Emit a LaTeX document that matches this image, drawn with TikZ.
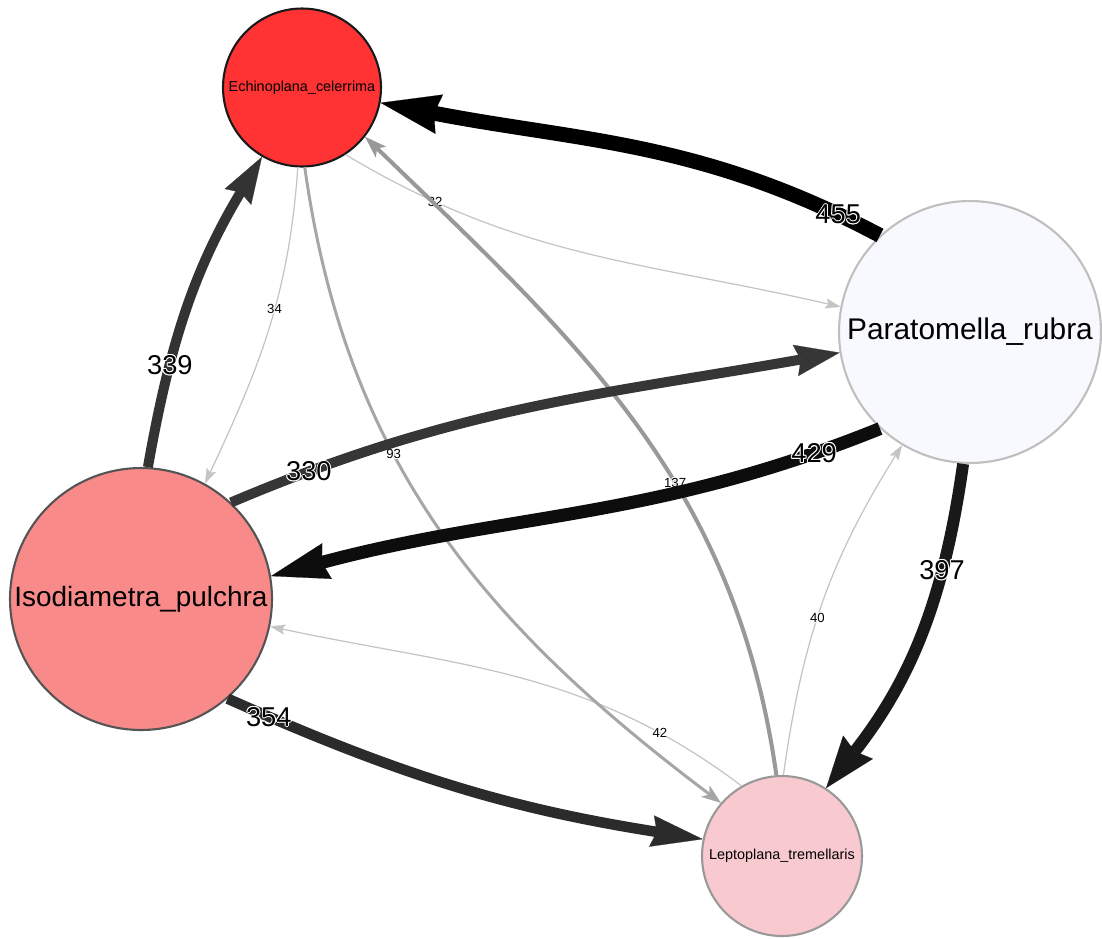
\documentclass[tikz,border=0pt]{standalone}
\usepackage{fontspec}
\setmainfont{Liberation Sans}
\usetikzlibrary{arrows.meta}
\definecolor{echired}{RGB}{255,51,51}
\definecolor{isodrose}{RGB}{249,138,138}
\definecolor{leptpink}{RGB}{248,202,208}
\definecolor{paramist}{RGB}{248,248,255}

% white rim round the weights
\newcommand{\haloed}[1]{%
  \rlap{\color{white}\kern-0.55pt#1}\rlap{\color{white}\kern0.55pt#1}%
  \rlap{\color{white}\raisebox{0.55pt}{#1}}\rlap{\color{white}\raisebox{-0.55pt}{#1}}%
  \rlap{\color{white}\kern0.4pt\raisebox{0.4pt}{#1}}\rlap{\color{white}\kern-0.4pt\raisebox{0.4pt}{#1}}%
  \rlap{\color{white}\kern0.4pt\raisebox{-0.4pt}{#1}}\rlap{\color{white}\kern-0.4pt\raisebox{-0.4pt}{#1}}%
  #1}

\begin{document}
\begin{tikzpicture}[x=0.02cm, y=-0.02cm,
    species/.style={circle, inner sep=0pt, line width=1.2pt},
    smallname/.style={font=\fontsize{8.2}{10}\selectfont},
    biglabel/.style={font=\fontsize{15.5}{18}\selectfont, inner sep=0pt},
    smalllabel/.style={font=\fontsize{7.5}{9}\selectfont, inner sep=0pt},
    faint/.style={draw=black!23, line width=0.7pt,
        -{Stealth[length=8.5pt, width=5.7pt, inset=1.5pt, line width=0.1pt]}},
    heavy/.style n args={4}{draw=#1, line width=#2,
        -{Stealth[length=#3, width=#4, inset=3pt, line width=0.1pt]}}]
    \useasboundingbox (0,0) rectangle (1102,938);

    % species
    \node[species, fill=echired, draw=black!90, smallname, minimum size=3.16cm] (echi) at (302,87.5) {Echinoplana\_celerrima};
    \node[species, fill=paramist, draw=black!25, font=\fontsize{17}{20}\selectfont, minimum size=5.24cm] (para) at (970,332) {Paratomella\_rubra};
    \node[species, fill=isodrose, draw=black!67, font=\fontsize{15.9}{19}\selectfont, minimum size=5.24cm] (isod) at (141,599) {Isodiametra\_pulchra};
    \node[species, fill=leptpink, draw=black!40, smallname, minimum size=3.2cm] (lept) at (782,856) {Leptoplana\_tremellaris};

    % weak flows
    \draw[faint] (echi.-57) to[out=-31, in=167] node[smalllabel, pos=0.18] (w32) {\haloed{32}} (para.169);
    \draw[faint] (echi.267) to[out=266, in=65] node[smalllabel, pos=0.43] (w34) {\haloed{34}} (isod.61);
    \draw[faint] (lept.89) to[out=82, in=238] node[smalllabel, pos=0.45] (w40) {\haloed{40}} (para.239);
    \draw[faint] (lept.120) to[out=143, in=-12] node[smalllabel, pos=0.18] (w42) {\haloed{42}} (isod.-12);

    % medium flows
    \draw[heavy={black!35}{1.7pt}{11pt}{8pt}] (echi.272) to[out=278, in=143] node[smalllabel, pos=0.38] (w93) {\haloed{93}} (lept.139);
    \draw[heavy={black!40}{2.3pt}{12.5pt}{8.5pt}] (lept.94) to[out=98, in=-44] node[smalllabel, pos=0.4] (w137) {\haloed{137}} (echi.-38);

    % strong flows
    \draw[heavy={black!80}{5.7pt}{26.6pt}{17.6pt}] (isod.87) to[out=80, in=239] node[biglabel, pos=0.3] (w339) {\haloed{339}} (echi.240);
    \draw[heavy={black!79}{5.7pt}{25.5pt}{18pt}] (isod.47) to[out=23, in=190] node[biglabel, pos=0.12] (w330) {\haloed{330}} (para.189);
    \draw[heavy={black!83}{6pt}{29.5pt}{18pt}] (isod.-49) to[out=-24, in=171] node[biglabel, pos=0.08] (w354) {\haloed{354}} (lept.168);
    \draw[heavy={black!90}{6.8pt}{29.5pt}{21.5pt}] (para.267) to[out=262, in=52] node[biglabel, pos=0.29] (w397) {\haloed{397}} (lept.57);
    \draw[heavy={black!95}{7.4pt}{33pt}{21pt}] (para.227) to[out=202, in=15] node[biglabel, pos=0.1] (w429) {\haloed{429}} (isod.10);
    \draw[heavy={black}{8.5pt}{34pt}{22.7pt}] (para.133) to[out=152, in=-11] node[biglabel, pos=0.08] (w455) {\haloed{455}} (echi.-11);
\end{tikzpicture}
\end{document}
